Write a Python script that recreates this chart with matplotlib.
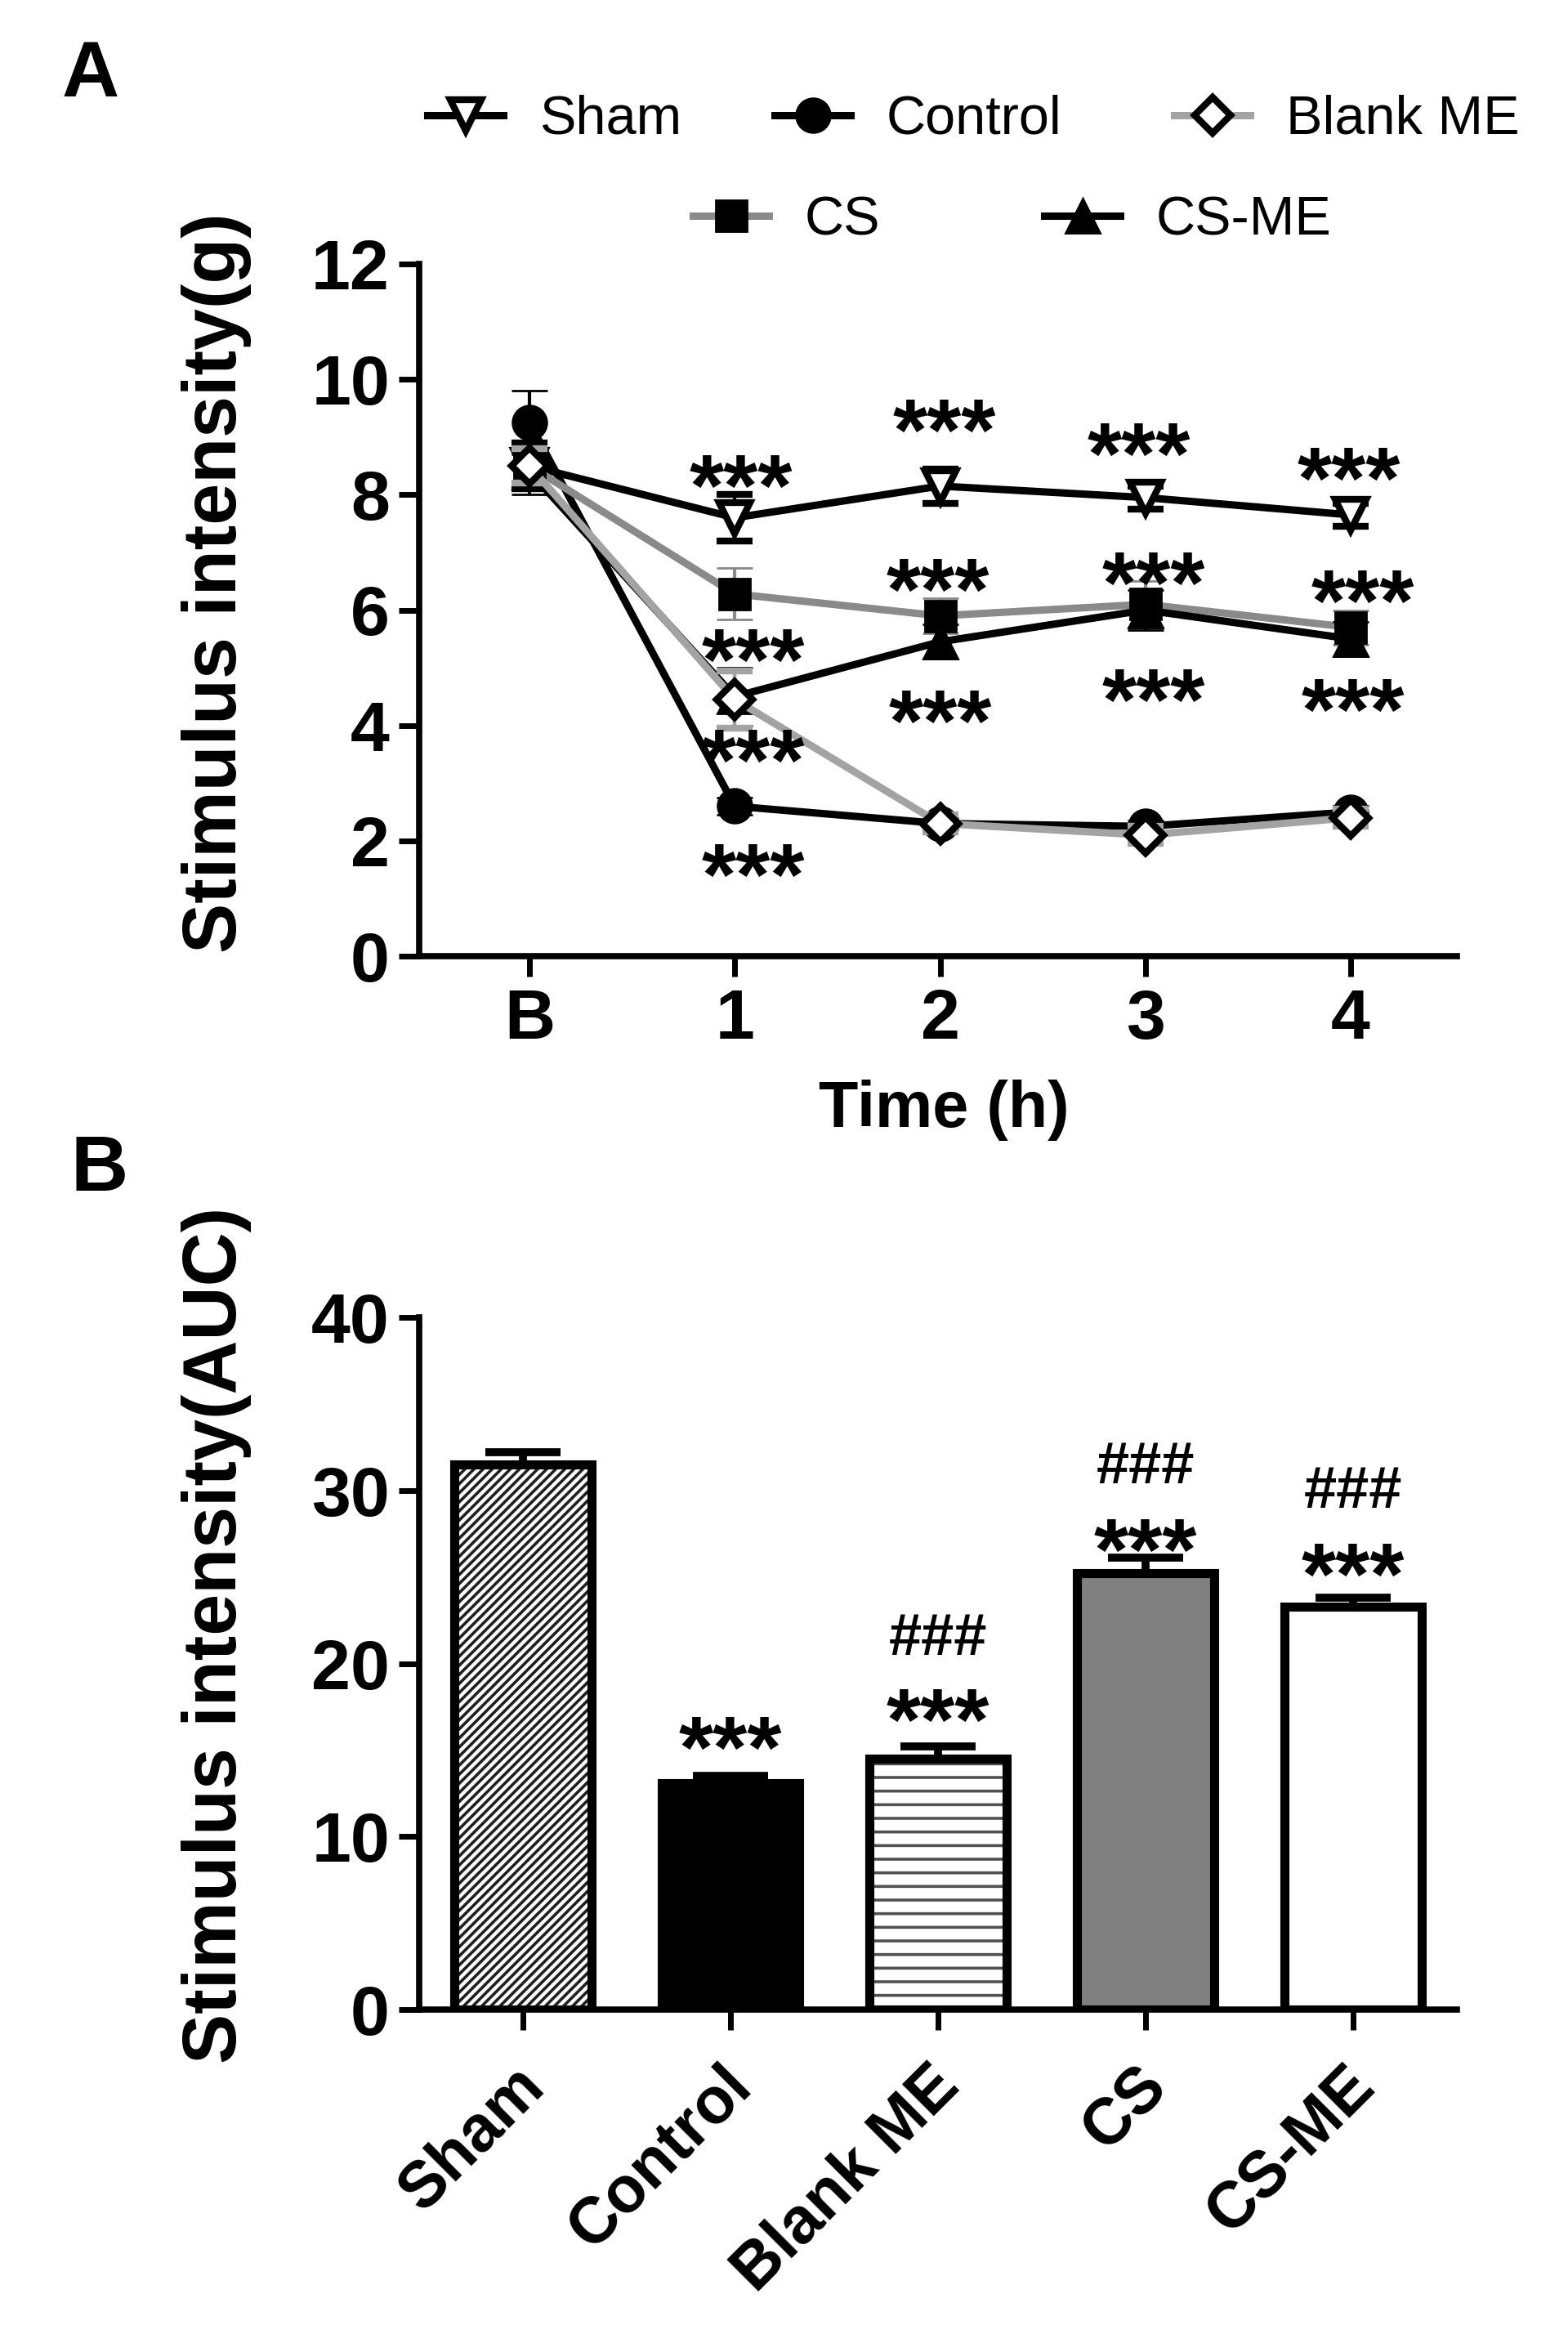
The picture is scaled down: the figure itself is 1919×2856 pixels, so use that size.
import matplotlib
matplotlib.use("Agg")
import matplotlib.pyplot as plt
import matplotlib.transforms as mtransforms
from matplotlib.lines import Line2D

plt.rcParams["font.family"] = ["Liberation Sans", "DejaVu Sans"]
plt.rcParams["hatch.linewidth"] = 2.6

# ---------------- data: panel A (time course) ----------------
time_labels = ["B", "1", "2", "3", "4"]
groups = ["Sham", "Control", "Blank ME", "CS", "CS-ME"]

sham_mean = [8.5, 7.6, 8.15, 7.95, 7.65]
sham_err = [0.4, 0.4, 0.3, 0.2, 0.2]
control_mean = [9.25, 2.6, 2.3, 2.25, 2.5]
control_err = [0.55, 0.15, 0.1, 0.1, 0.1]
blank_mean = [8.5, 4.45, 2.3, 2.1, 2.4]
blank_err = [0.3, 0.5, 0.15, 0.15, 0.15]
cs_mean = [8.5, 6.28, 5.9, 6.1, 5.7]
cs_err = [0.3, 0.45, 0.3, 0.4, 0.3]
csme_mean = [8.4, 4.5, 5.45, 6.0, 5.5]
csme_err = [0.4, 0.5, 0.3, 0.35, 0.3]

# significance marks in panel A (time index, height)
star_a_x = [1.03, 1.09, 1.09, 1.09, 2.02, 1.99, 2.0, 2.97, 3.04, 3.04, 3.99, 4.06, 4.01]
star_a_y = [8.5, 5.48, 3.73, 1.75, 9.46, 6.7, 4.42, 9.05, 6.81, 4.78, 8.63, 6.5, 4.62]

# ---------------- data: panel B (AUC) ----------------
auc_mean = [31.5, 13.1, 14.5, 25.2, 23.3]
auc_err = [0.7, 0.4, 0.7, 0.9, 0.5]
star_b_y = [None, 16.3, 17.9, 27.7, 26.3]
hash_b_y = [None, None, 21.7, 31.6, 30.2]

W, H = 1919, 2856
fig = plt.figure(figsize=(W / 100, H / 100), dpi=100)


def fx(px):
    return px / W


def fy(py):
    return 1 - py / H


def style_axes(ax):
    for s in ["top", "right"]:
        ax.spines[s].set_visible(False)
    for s in ["left", "bottom"]:
        ax.spines[s].set_linewidth(5.5)
    ax.tick_params(direction="out", length=18, width=5, labelsize=62)
    ax.tick_params(axis="y", pad=8)
    for lbl in ax.get_xticklabels() + ax.get_yticklabels():
        lbl.set_fontweight("bold")


def mark(ax, x, y, s, fs, frac, dx=0):
    ax.annotate(s, (x, y), xytext=(dx, -frac * fs), textcoords="offset points",
                ha="center", va="baseline", fontsize=fs, fontweight="bold",
                annotation_clip=False, zorder=10)


# ---------------- panel A ----------------
axA = fig.add_axes([fx(513), fy(1170), fx(1783) - fx(513), fy(323) - fy(1170)])
x = list(range(len(time_labels)))

series = [
    ("Sham", sham_mean, sham_err, "black", "v", "white", 28, 6),
    ("Control", control_mean, control_err, "black", "o", "black", 30, 2),
    ("CS", cs_mean, cs_err, "#8a8a8a", "s", "black", 27, 2),
    ("CS-ME", csme_mean, csme_err, "black", "^", "black", 30, 2),
    ("Blank ME", blank_mean, blank_err, "#a3a3a3", "D", "white", 22, 6),
]
handles = {}
for i, (name, m, e, lc, mk, mfc, ms, mew) in enumerate(series):
    axA.errorbar(x, m, yerr=e, color=lc, ecolor=lc, lw=6.5, elinewidth=3,
                 capsize=16, capthick=3, marker=mk, ms=ms, mfc=mfc, mec="black",
                 mew=mew, zorder=3 + i)
    handles[name] = Line2D([], [], color=lc, lw=6.5, marker=mk, ms=ms, mfc=mfc,
                           mec="black", mew=mew)

axA.set_xlim(-0.537, 4.517)
axA.set_ylim(0, 12)
axA.set_yticks(range(0, 13, 2))
axA.set_xticks(x)
axA.set_xticklabels(time_labels)
style_axes(axA)
axA.tick_params(axis="x", pad=10)

for sx, sy in zip(star_a_x, star_a_y):
    mark(axA, sx, sy, "***", 78, 0.56)

fig.text(fx(1155), fy(1359), "Time (h)", ha="center", va="center",
         fontsize=57, fontweight="bold")
fig.text(fx(265), fy(713), "Stimulus intensity(g)", rotation=90, ha="center",
         va="center", fontsize=66, fontweight="bold")
fig.text(fx(76), fy(118), "A", ha="left", va="baseline", fontsize=70,
         fontweight="bold")

# legend entries, placed one by one like the original layout
legend_pos = {
    "Sham": (523, 147), "Control": (948, 147), "Blank ME": (1437, 147),
    "CS": (848, 270), "CS-ME": (1278, 270),
}
for name in groups:
    px, py = legend_pos[name]
    fig.legend(handles=[handles[name]], labels=[name], loc="center left",
               bbox_to_anchor=(fx(px), fy(py)), frameon=False, numpoints=1,
               handlelength=1.4, handletextpad=0.65, borderpad=0,
               borderaxespad=0, prop=dict(family="Liberation Sans", size=48))

# ---------------- panel B ----------------
axB = fig.add_axes([fx(513), fy(2459), fx(1783) - fx(513), fy(1612) - fy(2459)])
bar_face = ["white", "black", "white", "#808080", "white"]
bar_hatch = ["///", None, "-", None, None]
hatch_col = ["#202020", "black", "#505050", "#808080", "white"]
width = 0.665

for i in range(len(groups)):
    axB.bar(i, auc_mean[i], width=width, color=bar_face[i], edgecolor=hatch_col[i],
            linewidth=0, hatch=bar_hatch[i], zorder=2)
axB.bar(x, auc_mean, width=width, fill=False, edgecolor="black", linewidth=8, zorder=3)
axB.errorbar(x, auc_mean, yerr=[[0] * len(auc_err), auc_err], fmt="none",
             ecolor="black", elinewidth=7, capsize=33, capthick=7, zorder=1)

axB.set_xlim(-0.5, 4.5)
axB.set_ylim(0, 40)
axB.set_yticks(range(0, 41, 10))
axB.set_xticks(x)
axB.set_xticklabels(groups, rotation=45, ha="right", va="top", rotation_mode="anchor")
style_axes(axB)
axB.tick_params(axis="x", pad=22, labelsize=57)
shift = mtransforms.ScaledTranslation(-0.12, 0, fig.dpi_scale_trans)
for lbl in axB.get_xticklabels():
    lbl.set_transform(lbl.get_transform() + shift)

for i in range(len(groups)):
    if star_b_y[i] is not None:
        mark(axB, i, star_b_y[i], "***", 78, 0.56)
    if hash_b_y[i] is not None:
        mark(axB, i, hash_b_y[i], "###", 52, 0.35)

fig.text(fx(265), fy(2001), "Stimulus intensity(AUC)", rotation=90, ha="center",
         va="center", fontsize=66, fontweight="bold")
fig.text(fx(86), fy(1457), "B", ha="left", va="baseline", fontsize=70,
         fontweight="bold")

fig.savefig("out.png", dpi=100)
